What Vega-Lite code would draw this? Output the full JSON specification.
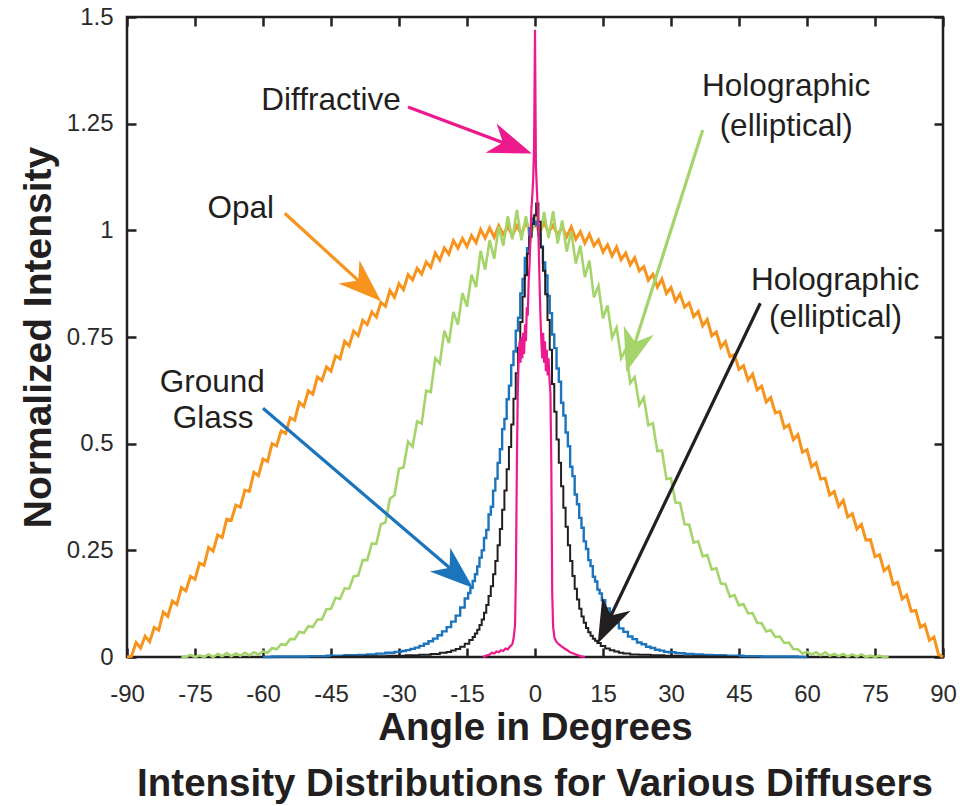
{
"$schema": "https://vega.github.io/schema/vega-lite/v6.json",
"width": 816, "height": 640,
"autosize": {"type": "none"},
"padding": {"left": 127, "top": 17, "right": 36, "bottom": 149},
"background": "white",
"config": {"view": {"stroke": "#231f20", "strokeWidth": 2.5}, "font": "Liberation Sans"},
"title": {"text": "Intensity Distributions for Various Diffusers", "orient": "bottom", "anchor": "middle", "fontSize": 38.5, "fontWeight": "bold", "font": "Liberation Sans", "color": "#231f20", "baseline": "alphabetic", "offset": 49},
"datasets": {
"opal": [{"a":-90,"v":0},{"a":-89,"v":0.002},{"a":-88,"v":0.034},{"a":-87,"v":0.021},{"a":-86,"v":0.049},{"a":-85,"v":0.036},{"a":-84,"v":0.069},{"a":-83,"v":0.063},{"a":-82,"v":0.105},{"a":-81,"v":0.095},{"a":-80,"v":0.131},{"a":-79,"v":0.123},{"a":-78,"v":0.163},{"a":-77,"v":0.155},{"a":-76,"v":0.189},{"a":-75,"v":0.182},{"a":-74,"v":0.22},{"a":-73,"v":0.215},{"a":-72,"v":0.257},{"a":-71,"v":0.248},{"a":-70,"v":0.286},{"a":-69,"v":0.28},{"a":-68,"v":0.323},{"a":-67,"v":0.32},{"a":-66,"v":0.356},{"a":-65,"v":0.351},{"a":-64,"v":0.391},{"a":-63,"v":0.388},{"a":-62,"v":0.433},{"a":-61,"v":0.425},{"a":-60,"v":0.464},{"a":-59,"v":0.458},{"a":-58,"v":0.5},{"a":-57,"v":0.495},{"a":-56,"v":0.53},{"a":-55,"v":0.524},{"a":-54,"v":0.561},{"a":-53,"v":0.555},{"a":-52,"v":0.597},{"a":-51,"v":0.587},{"a":-50,"v":0.624},{"a":-49,"v":0.616},{"a":-48,"v":0.656},{"a":-47,"v":0.648},{"a":-46,"v":0.68},{"a":-45,"v":0.67},{"a":-44,"v":0.706},{"a":-43,"v":0.699},{"a":-42,"v":0.74},{"a":-41,"v":0.729},{"a":-40,"v":0.764},{"a":-39,"v":0.753},{"a":-38,"v":0.789},{"a":-37,"v":0.779},{"a":-36,"v":0.809},{"a":-35,"v":0.797},{"a":-34,"v":0.831},{"a":-33,"v":0.822},{"a":-32,"v":0.859},{"a":-31,"v":0.843},{"a":-30,"v":0.875},{"a":-29,"v":0.861},{"a":-28,"v":0.896},{"a":-27,"v":0.884},{"a":-26,"v":0.911},{"a":-25,"v":0.897},{"a":-24,"v":0.926},{"a":-23,"v":0.913},{"a":-22,"v":0.947},{"a":-21,"v":0.93},{"a":-20,"v":0.959},{"a":-19,"v":0.944},{"a":-18,"v":0.976},{"a":-17,"v":0.958},{"a":-16,"v":0.981},{"a":-15,"v":0.962},{"a":-14,"v":0.988},{"a":-13,"v":0.971},{"a":-12,"v":1.002},{"a":-11,"v":0.982},{"a":-10,"v":1.006},{"a":-9,"v":0.984},{"a":-8,"v":1.011},{"a":-7,"v":0.99},{"a":-6,"v":1.009},{"a":-5,"v":0.987},{"a":-4,"v":1.011},{"a":-3,"v":0.991},{"a":-2,"v":1.019},{"a":-1,"v":0.995},{"a":0,"v":1.017},{"a":1,"v":0.994},{"a":2,"v":1.018},{"a":3,"v":0.995},{"a":4,"v":1.012},{"a":5,"v":0.988},{"a":6,"v":1.009},{"a":7,"v":0.985},{"a":8,"v":1.008},{"a":9,"v":0.979},{"a":10,"v":0.997},{"a":11,"v":0.97},{"a":12,"v":0.991},{"a":13,"v":0.964},{"a":14,"v":0.978},{"a":15,"v":0.949},{"a":16,"v":0.966},{"a":17,"v":0.94},{"a":18,"v":0.961},{"a":19,"v":0.931},{"a":20,"v":0.947},{"a":21,"v":0.919},{"a":22,"v":0.936},{"a":23,"v":0.905},{"a":24,"v":0.915},{"a":25,"v":0.883},{"a":26,"v":0.897},{"a":27,"v":0.867},{"a":28,"v":0.886},{"a":29,"v":0.852},{"a":30,"v":0.866},{"a":31,"v":0.834},{"a":32,"v":0.851},{"a":33,"v":0.82},{"a":34,"v":0.83},{"a":35,"v":0.798},{"a":36,"v":0.81},{"a":37,"v":0.776},{"a":38,"v":0.791},{"a":39,"v":0.753},{"a":40,"v":0.762},{"a":41,"v":0.726},{"a":42,"v":0.739},{"a":43,"v":0.704},{"a":44,"v":0.709},{"a":45,"v":0.674},{"a":46,"v":0.683},{"a":47,"v":0.649},{"a":48,"v":0.663},{"a":49,"v":0.626},{"a":50,"v":0.635},{"a":51,"v":0.598},{"a":52,"v":0.608},{"a":53,"v":0.572},{"a":54,"v":0.575},{"a":55,"v":0.537},{"a":56,"v":0.544},{"a":57,"v":0.509},{"a":58,"v":0.521},{"a":59,"v":0.48},{"a":60,"v":0.486},{"a":61,"v":0.446},{"a":62,"v":0.455},{"a":63,"v":0.417},{"a":64,"v":0.419},{"a":65,"v":0.38},{"a":66,"v":0.388},{"a":67,"v":0.353},{"a":68,"v":0.367},{"a":69,"v":0.328},{"a":70,"v":0.336},{"a":71,"v":0.3},{"a":72,"v":0.311},{"a":73,"v":0.274},{"a":74,"v":0.275},{"a":75,"v":0.235},{"a":76,"v":0.24},{"a":77,"v":0.202},{"a":78,"v":0.212},{"a":79,"v":0.17},{"a":80,"v":0.175},{"a":81,"v":0.136},{"a":82,"v":0.145},{"a":83,"v":0.107},{"a":84,"v":0.109},{"a":85,"v":0.07},{"a":86,"v":0.076},{"a":87,"v":0.039},{"a":88,"v":0.047},{"a":89,"v":0.006},{"a":90,"v":0}],
"holo_wide": [{"a":-78,"v":0},{"a":-77,"v":0},{"a":-76,"v":0.005},{"a":-75,"v":0},{"a":-74,"v":0.004},{"a":-73,"v":0},{"a":-72,"v":0.006},{"a":-71,"v":0},{"a":-70,"v":0.007},{"a":-69,"v":0.002},{"a":-68,"v":0.009},{"a":-67,"v":0.002},{"a":-66,"v":0.008},{"a":-65,"v":0.003},{"a":-64,"v":0.01},{"a":-63,"v":0.004},{"a":-62,"v":0.011},{"a":-61,"v":0.006},{"a":-60,"v":0.013},{"a":-59,"v":0.01},{"a":-58,"v":0.021},{"a":-57,"v":0.018},{"a":-56,"v":0.03},{"a":-55,"v":0.028},{"a":-54,"v":0.042},{"a":-53,"v":0.042},{"a":-52,"v":0.059},{"a":-51,"v":0.056},{"a":-50,"v":0.072},{"a":-49,"v":0.07},{"a":-48,"v":0.088},{"a":-47,"v":0.088},{"a":-46,"v":0.112},{"a":-45,"v":0.113},{"a":-44,"v":0.139},{"a":-43,"v":0.136},{"a":-42,"v":0.161},{"a":-41,"v":0.16},{"a":-40,"v":0.189},{"a":-39,"v":0.191},{"a":-38,"v":0.227},{"a":-37,"v":0.227},{"a":-36,"v":0.266},{"a":-35,"v":0.265},{"a":-34,"v":0.311},{"a":-33,"v":0.315},{"a":-32,"v":0.371},{"a":-31,"v":0.379},{"a":-30,"v":0.441},{"a":-29,"v":0.444},{"a":-28,"v":0.505},{"a":-27,"v":0.493},{"a":-26,"v":0.552},{"a":-25,"v":0.547},{"a":-24,"v":0.624},{"a":-23,"v":0.621},{"a":-22,"v":0.7},{"a":-21,"v":0.688},{"a":-20,"v":0.765},{"a":-19,"v":0.736},{"a":-18,"v":0.809},{"a":-17,"v":0.779},{"a":-16,"v":0.853},{"a":-15,"v":0.821},{"a":-14,"v":0.896},{"a":-13,"v":0.867},{"a":-12,"v":0.952},{"a":-11,"v":0.908},{"a":-10,"v":0.977},{"a":-9,"v":0.933},{"a":-8,"v":1.009},{"a":-7,"v":0.964},{"a":-6,"v":1.033},{"a":-5,"v":0.979},{"a":-4,"v":1.048},{"a":-3,"v":0.977},{"a":-2,"v":1.033},{"a":-1,"v":0.974},{"a":0,"v":1.04},{"a":1,"v":0.98},{"a":2,"v":1.043},{"a":3,"v":0.982},{"a":4,"v":1.045},{"a":5,"v":0.969},{"a":6,"v":1.023},{"a":7,"v":0.95},{"a":8,"v":0.998},{"a":9,"v":0.922},{"a":10,"v":0.964},{"a":11,"v":0.89},{"a":12,"v":0.929},{"a":13,"v":0.843},{"a":14,"v":0.87},{"a":15,"v":0.794},{"a":16,"v":0.824},{"a":17,"v":0.749},{"a":18,"v":0.772},{"a":19,"v":0.7},{"a":20,"v":0.721},{"a":21,"v":0.642},{"a":22,"v":0.656},{"a":23,"v":0.59},{"a":24,"v":0.608},{"a":25,"v":0.543},{"a":26,"v":0.548},{"a":27,"v":0.482},{"a":28,"v":0.484},{"a":29,"v":0.417},{"a":30,"v":0.419},{"a":31,"v":0.362},{"a":32,"v":0.361},{"a":33,"v":0.311},{"a":34,"v":0.31},{"a":35,"v":0.268},{"a":36,"v":0.271},{"a":37,"v":0.236},{"a":38,"v":0.239},{"a":39,"v":0.205},{"a":40,"v":0.208},{"a":41,"v":0.172},{"a":42,"v":0.171},{"a":43,"v":0.141},{"a":44,"v":0.145},{"a":45,"v":0.121},{"a":46,"v":0.124},{"a":47,"v":0.102},{"a":48,"v":0.103},{"a":49,"v":0.08},{"a":50,"v":0.079},{"a":51,"v":0.06},{"a":52,"v":0.063},{"a":53,"v":0.047},{"a":54,"v":0.048},{"a":55,"v":0.033},{"a":56,"v":0.034},{"a":57,"v":0.018},{"a":58,"v":0.018},{"a":59,"v":0.008},{"a":60,"v":0.012},{"a":61,"v":0.006},{"a":62,"v":0.011},{"a":63,"v":0.004},{"a":64,"v":0.011},{"a":65,"v":0.003},{"a":66,"v":0.007},{"a":67,"v":0.002},{"a":68,"v":0.007},{"a":69,"v":0.001},{"a":70,"v":0.006},{"a":71,"v":0.001},{"a":72,"v":0.006},{"a":73,"v":0},{"a":74,"v":0.003},{"a":75,"v":0},{"a":76,"v":0.003},{"a":77,"v":0},{"a":78,"v":0}],
"ground": [{"a":-60,"v":0},{"a":-56,"v":0.001},{"a":-52,"v":0.001},{"a":-48,"v":0.002},{"a":-44,"v":0.003},{"a":-40,"v":0.004},{"a":-38,"v":0.005},{"a":-36,"v":0.006},{"a":-34,"v":0.008},{"a":-32,"v":0.01},{"a":-30,"v":0.012},{"a":-29,"v":0.014},{"a":-28,"v":0.016},{"a":-27,"v":0.019},{"a":-26,"v":0.022},{"a":-25,"v":0.026},{"a":-24,"v":0.031},{"a":-23,"v":0.037},{"a":-22,"v":0.043},{"a":-21,"v":0.051},{"a":-20,"v":0.06},{"a":-19,"v":0.07},{"a":-18,"v":0.083},{"a":-17,"v":0.097},{"a":-16,"v":0.116},{"a":-15,"v":0.137},{"a":-14.5,"v":0.15},{"a":-14,"v":0.162},{"a":-13.5,"v":0.178},{"a":-13,"v":0.194},{"a":-12.5,"v":0.212},{"a":-12,"v":0.233},{"a":-11.5,"v":0.25},{"a":-11,"v":0.279},{"a":-10.5,"v":0.298},{"a":-10,"v":0.334},{"a":-9.5,"v":0.352},{"a":-9,"v":0.39},{"a":-8.5,"v":0.418},{"a":-8,"v":0.455},{"a":-7.5,"v":0.487},{"a":-7,"v":0.534},{"a":-6.5,"v":0.558},{"a":-6,"v":0.604},{"a":-5.5,"v":0.636},{"a":-5,"v":0.684},{"a":-4.5,"v":0.716},{"a":-4,"v":0.765},{"a":-3.5,"v":0.795},{"a":-3,"v":0.852},{"a":-2.5,"v":0.886},{"a":-2,"v":0.935},{"a":-1.5,"v":0.958},{"a":-1,"v":1.005},{"a":-0.5,"v":1.028},{"a":0,"v":1.02},{"a":0.5,"v":1.012},{"a":1,"v":0.99},{"a":1.5,"v":0.962},{"a":2,"v":0.925},{"a":2.5,"v":0.894},{"a":3,"v":0.846},{"a":3.5,"v":0.806},{"a":4,"v":0.756},{"a":4.5,"v":0.724},{"a":5,"v":0.676},{"a":5.5,"v":0.645},{"a":6,"v":0.596},{"a":6.5,"v":0.566},{"a":7,"v":0.526},{"a":7.5,"v":0.494},{"a":8,"v":0.446},{"a":8.5,"v":0.424},{"a":9,"v":0.381},{"a":9.5,"v":0.358},{"a":10,"v":0.326},{"a":10.5,"v":0.303},{"a":11,"v":0.271},{"a":11.5,"v":0.253},{"a":12,"v":0.227},{"a":12.5,"v":0.213},{"a":13,"v":0.188},{"a":13.5,"v":0.177},{"a":14,"v":0.158},{"a":14.5,"v":0.149},{"a":15,"v":0.133},{"a":16,"v":0.114},{"a":17,"v":0.094},{"a":18,"v":0.081},{"a":19,"v":0.067},{"a":20,"v":0.059},{"a":21,"v":0.048},{"a":22,"v":0.042},{"a":23,"v":0.034},{"a":24,"v":0.03},{"a":25,"v":0.024},{"a":26,"v":0.021},{"a":27,"v":0.017},{"a":28,"v":0.015},{"a":29,"v":0.012},{"a":30,"v":0.011},{"a":32,"v":0.009},{"a":34,"v":0.007},{"a":36,"v":0.006},{"a":38,"v":0.005},{"a":40,"v":0.004},{"a":44,"v":0.003},{"a":48,"v":0.002},{"a":52,"v":0.001},{"a":56,"v":0.001},{"a":60,"v":0}],
"holo_narrow": [{"a":-45,"v":0},{"a":-40,"v":0.001},{"a":-35,"v":0.002},{"a":-30,"v":0.003},{"a":-27,"v":0.004},{"a":-24,"v":0.005},{"a":-22,"v":0.007},{"a":-20,"v":0.01},{"a":-19,"v":0.012},{"a":-18,"v":0.015},{"a":-17,"v":0.019},{"a":-16,"v":0.024},{"a":-15,"v":0.031},{"a":-14,"v":0.04},{"a":-13.5,"v":0.047},{"a":-13,"v":0.055},{"a":-12.5,"v":0.064},{"a":-12,"v":0.075},{"a":-11.5,"v":0.088},{"a":-11,"v":0.104},{"a":-10.5,"v":0.122},{"a":-10,"v":0.143},{"a":-9.5,"v":0.166},{"a":-9,"v":0.194},{"a":-8.5,"v":0.225},{"a":-8,"v":0.262},{"a":-7.5,"v":0.3},{"a":-7,"v":0.345},{"a":-6.5,"v":0.39},{"a":-6,"v":0.44},{"a":-5.5,"v":0.492},{"a":-5,"v":0.545},{"a":-4.5,"v":0.605},{"a":-4,"v":0.665},{"a":-3.5,"v":0.725},{"a":-3,"v":0.785},{"a":-2.5,"v":0.845},{"a":-2,"v":0.895},{"a":-1.5,"v":0.945},{"a":-1,"v":0.985},{"a":-0.5,"v":1.015},{"a":0,"v":1.035},{"a":0.5,"v":1.063},{"a":1,"v":1.02},{"a":1.5,"v":0.96},{"a":2,"v":0.905},{"a":2.5,"v":0.85},{"a":3,"v":0.79},{"a":3.5,"v":0.72},{"a":4,"v":0.64},{"a":4.5,"v":0.575},{"a":5,"v":0.51},{"a":5.5,"v":0.455},{"a":6,"v":0.4},{"a":6.5,"v":0.35},{"a":7,"v":0.305},{"a":7.5,"v":0.262},{"a":8,"v":0.225},{"a":8.5,"v":0.19},{"a":9,"v":0.16},{"a":9.5,"v":0.135},{"a":10,"v":0.113},{"a":10.5,"v":0.095},{"a":11,"v":0.08},{"a":11.5,"v":0.068},{"a":12,"v":0.058},{"a":12.5,"v":0.05},{"a":13,"v":0.043},{"a":13.5,"v":0.038},{"a":14,"v":0.033},{"a":15,"v":0.026},{"a":16,"v":0.02},{"a":17,"v":0.016},{"a":18,"v":0.013},{"a":19,"v":0.01},{"a":20,"v":0.008},{"a":22,"v":0.006},{"a":24,"v":0.005},{"a":27,"v":0.004},{"a":30,"v":0.003},{"a":35,"v":0.002},{"a":40,"v":0.001},{"a":45,"v":0}],
"diffractive": [{"a":-11.5,"v":0},{"a":-11,"v":0.002},{"a":-10.5,"v":0.004},{"a":-10,"v":0.006},{"a":-9.5,"v":0.01},{"a":-9,"v":0.008},{"a":-8.5,"v":0.013},{"a":-8,"v":0.011},{"a":-7.5,"v":0.016},{"a":-7,"v":0.014},{"a":-6.5,"v":0.02},{"a":-6,"v":0.018},{"a":-5.5,"v":0.025},{"a":-5,"v":0.03},{"a":-4.7,"v":0.045},{"a":-4.4,"v":0.075},{"a":-4.2,"v":0.2},{"a":-4,"v":0.45},{"a":-3.8,"v":0.62},{"a":-3.6,"v":0.7},{"a":-3.4,"v":0.74},{"a":-3.2,"v":0.69},{"a":-3,"v":0.75},{"a":-2.8,"v":0.7},{"a":-2.6,"v":0.76},{"a":-2.4,"v":0.71},{"a":-2.2,"v":0.78},{"a":-2,"v":0.74},{"a":-1.8,"v":0.82},{"a":-1.6,"v":0.8},{"a":-1.4,"v":0.88},{"a":-1.2,"v":0.92},{"a":-1,"v":0.98},{"a":-0.8,"v":1.05},{"a":-0.6,"v":1.08},{"a":-0.4,"v":1.12},{"a":-0.2,"v":1.2},{"a":0,"v":1.47},{"a":0.2,"v":1.15},{"a":0.4,"v":1.1},{"a":0.6,"v":1.05},{"a":0.8,"v":0.97},{"a":1,"v":0.88},{"a":1.2,"v":0.8},{"a":1.4,"v":0.74},{"a":1.6,"v":0.7},{"a":1.8,"v":0.76},{"a":2,"v":0.69},{"a":2.2,"v":0.74},{"a":2.4,"v":0.67},{"a":2.6,"v":0.72},{"a":2.8,"v":0.66},{"a":3,"v":0.7},{"a":3.2,"v":0.65},{"a":3.4,"v":0.62},{"a":3.6,"v":0.45},{"a":3.8,"v":0.15},{"a":4,"v":0.07},{"a":4.3,"v":0.045},{"a":4.6,"v":0.038},{"a":5,"v":0.032},{"a":5.5,"v":0.028},{"a":6,"v":0.024},{"a":6.5,"v":0.02},{"a":7,"v":0.017},{"a":7.5,"v":0.013},{"a":8,"v":0.01},{"a":8.5,"v":0.008},{"a":9,"v":0.006},{"a":9.5,"v":0.004},{"a":10,"v":0.002},{"a":10.5,"v":0.001},{"a":11,"v":0}],
"arrows": [{"name":"diffractive","a":-28.0,"v":1.289,"a2":-5.2,"v2":1.198},{"name":"holo_wide","a":37.0,"v":1.235,"a2":21.5,"v2":0.717},{"name":"opal","a":-55.2,"v":1.04,"a2":-37.5,"v2":0.868},{"name":"holo_narrow","a":49.7,"v":0.829,"a2":15.9,"v2":0.078},{"name":"ground","a":-60.0,"v":0.583,"a2":-17.3,"v2":0.195}],
"labels": [{"label":"Diffractive","a":-45.0,"v":1.282},{"label":"Holographic","a":55.4,"v":1.315},{"label":"(elliptical)","a":55.4,"v":1.221},{"label":"Opal","a":-64.9,"v":1.028},{"label":"Holographic","a":66.2,"v":0.86},{"label":"(elliptical)","a":66.3,"v":0.774},{"label":"Ground","a":-71.2,"v":0.622},{"label":"Glass","a":-71.0,"v":0.536}]
},
"layer": [
{"data": {"name": "opal"}, "mark": {"type": "line", "color": "#f7941d", "strokeWidth": 3},
 "encoding": {
  "x": {"field": "a", "type": "quantitative", "scale": {"domain": [-90, 90], "nice": false, "zero": false},
    "axis": {"orient": "bottom", "values": [-90,-75,-60,-45,-30,-15,0,15,30,45,60,75,90], "labelExpr": "'' + datum.value", "labelFont": "Liberation Sans", "labelFontSize": 24, "labelColor": "#2b2b2b", "labelBaseline": "alphabetic", "labelPadding": 53, "tickSize": -9, "tickWidth": 2.5, "tickColor": "#231f20", "domain": false, "grid": false, "labelFlush": false, "labelOverlap": false, "title": "Angle in Degrees", "titleFont": "Liberation Sans", "titleFontSize": 38.5, "titleFontWeight": "bold", "titleColor": "#231f20", "titleBaseline": "alphabetic", "titleAlign": "center", "titleX": 408, "titleY": 82}},
  "y": {"field": "v", "type": "quantitative", "scale": {"domain": [0, 1.5], "nice": false, "zero": false},
    "axis": {"orient": "left", "values": [0,0.25,0.5,0.75,1,1.25,1.5], "labelExpr": "'' + datum.value", "labelFont": "Liberation Sans", "labelFontSize": 24, "labelColor": "#2b2b2b", "labelPadding": 23, "tickSize": -9, "tickWidth": 2.5, "tickColor": "#231f20", "domain": false, "grid": false, "labelFlush": false, "labelOverlap": false, "title": "Normalized Intensity", "titleFont": "Liberation Sans", "titleFontSize": 39, "titleFontWeight": "bold", "titleColor": "#231f20", "titleBaseline": "alphabetic", "titleAlign": "center", "titleAngle": -90, "titleX": -77, "titleY": 320}}
 }},
{"data": {"name": "holo_wide"}, "mark": {"type": "line", "color": "#a5d46b", "strokeWidth": 2.6},
 "encoding": {"x": {"field": "a", "type": "quantitative", "scale": {"domain": [-90, 90], "nice": false, "zero": false}, "axis": null},
  "y": {"field": "v", "type": "quantitative", "scale": {"domain": [0, 1.5], "nice": false, "zero": false}, "axis": null}}},
{"data": {"name": "ground"}, "mark": {"type": "line", "color": "#1c75bc", "strokeWidth": 2.4, "interpolate": "step"},
 "encoding": {"x": {"field": "a", "type": "quantitative", "scale": {"domain": [-90, 90], "nice": false, "zero": false}, "axis": null},
  "y": {"field": "v", "type": "quantitative", "scale": {"domain": [0, 1.5], "nice": false, "zero": false}, "axis": null}}},
{"data": {"name": "holo_narrow"}, "mark": {"type": "line", "color": "#231f20", "strokeWidth": 2, "interpolate": "step"},
 "encoding": {"x": {"field": "a", "type": "quantitative", "scale": {"domain": [-90, 90], "nice": false, "zero": false}, "axis": null},
  "y": {"field": "v", "type": "quantitative", "scale": {"domain": [0, 1.5], "nice": false, "zero": false}, "axis": null}}},
{"data": {"name": "diffractive"}, "mark": {"type": "line", "color": "#ec1a8c", "strokeWidth": 2.2},
 "encoding": {"x": {"field": "a", "type": "quantitative", "scale": {"domain": [-90, 90], "nice": false, "zero": false}, "axis": null},
  "y": {"field": "v", "type": "quantitative", "scale": {"domain": [0, 1.5], "nice": false, "zero": false}, "axis": null}}},
{"data": {"name": "arrows"}, "mark": {"type": "rule", "strokeWidth": 3.2},
 "encoding": {"x": {"field": "a", "type": "quantitative", "scale": {"domain": [-90, 90], "nice": false, "zero": false}, "axis": null},
  "y": {"field": "v", "type": "quantitative", "scale": {"domain": [0, 1.5], "nice": false, "zero": false}, "axis": null},
  "x2": {"field": "a2"}, "y2": {"field": "v2"},
  "color": {"field": "name", "type": "nominal", "scale": {"domain": ["diffractive","holo_wide","opal","holo_narrow","ground"], "range": ["#ec1a8c","#a5d46b","#f7941d","#231f20","#1c75bc"]}, "legend": null}}},
{"data": {"name": "arrows"}, "transform": [{"filter": {"field": "name", "equal": "diffractive"}}],
 "mark": {"type": "point", "shape": "M0,-1L0.72,1L0,0.42L-0.72,1Z", "size": 1900, "angle": 110.7, "filled": true, "opacity": 1, "strokeWidth": 0},
 "encoding": {"x": {"field": "a2", "type": "quantitative", "scale": {"domain": [-90, 90], "nice": false, "zero": false}, "axis": null},
  "y": {"field": "v2", "type": "quantitative", "scale": {"domain": [0, 1.5], "nice": false, "zero": false}, "axis": null},
  "color": {"field": "name", "type": "nominal", "legend": null}}},
{"data": {"name": "arrows"}, "transform": [{"filter": {"field": "name", "equal": "holo_wide"}}],
 "mark": {"type": "point", "shape": "M0,-1L0.72,1L0,0.42L-0.72,1Z", "size": 1900, "angle": 196.8, "filled": true, "opacity": 1, "strokeWidth": 0},
 "encoding": {"x": {"field": "a2", "type": "quantitative", "scale": {"domain": [-90, 90], "nice": false, "zero": false}, "axis": null},
  "y": {"field": "v2", "type": "quantitative", "scale": {"domain": [0, 1.5], "nice": false, "zero": false}, "axis": null},
  "color": {"field": "name", "type": "nominal", "legend": null}}},
{"data": {"name": "arrows"}, "transform": [{"filter": {"field": "name", "equal": "opal"}}],
 "mark": {"type": "point", "shape": "M0,-1L0.72,1L0,0.42L-0.72,1Z", "size": 1900, "angle": 132.4, "filled": true, "opacity": 1, "strokeWidth": 0},
 "encoding": {"x": {"field": "a2", "type": "quantitative", "scale": {"domain": [-90, 90], "nice": false, "zero": false}, "axis": null},
  "y": {"field": "v2", "type": "quantitative", "scale": {"domain": [0, 1.5], "nice": false, "zero": false}, "axis": null},
  "color": {"field": "name", "type": "nominal", "legend": null}}},
{"data": {"name": "arrows"}, "transform": [{"filter": {"field": "name", "equal": "holo_narrow"}}],
 "mark": {"type": "point", "shape": "M0,-1L0.72,1L0,0.42L-0.72,1Z", "size": 1900, "angle": 205.5, "filled": true, "opacity": 1, "strokeWidth": 0},
 "encoding": {"x": {"field": "a2", "type": "quantitative", "scale": {"domain": [-90, 90], "nice": false, "zero": false}, "axis": null},
  "y": {"field": "v2", "type": "quantitative", "scale": {"domain": [0, 1.5], "nice": false, "zero": false}, "axis": null},
  "color": {"field": "name", "type": "nominal", "legend": null}}},
{"data": {"name": "arrows"}, "transform": [{"filter": {"field": "name", "equal": "ground"}}],
 "mark": {"type": "point", "shape": "M0,-1L0.72,1L0,0.42L-0.72,1Z", "size": 1900, "angle": 130.6, "filled": true, "opacity": 1, "strokeWidth": 0},
 "encoding": {"x": {"field": "a2", "type": "quantitative", "scale": {"domain": [-90, 90], "nice": false, "zero": false}, "axis": null},
  "y": {"field": "v2", "type": "quantitative", "scale": {"domain": [0, 1.5], "nice": false, "zero": false}, "axis": null},
  "color": {"field": "name", "type": "nominal", "legend": null}}},
{"data": {"name": "labels"}, "mark": {"type": "text", "font": "Liberation Sans", "fontSize": 31.5, "color": "#231f20", "align": "center", "baseline": "alphabetic"},
 "encoding": {
  "x": {"field": "a", "type": "quantitative", "scale": {"domain": [-90, 90], "nice": false, "zero": false},
    "axis": {"orient": "top", "values": [-90,-75,-60,-45,-30,-15,0,15,30,45,60,75,90], "labels": false, "tickSize": -9, "tickWidth": 2.5, "tickColor": "#231f20", "domain": false, "grid": false, "title": null}},
  "y": {"field": "v", "type": "quantitative", "scale": {"domain": [0, 1.5], "nice": false, "zero": false},
    "axis": {"orient": "right", "values": [0,0.25,0.5,0.75,1,1.25,1.5], "labels": false, "tickSize": -9, "tickWidth": 2.5, "tickColor": "#231f20", "domain": false, "grid": false, "title": null}},
  "text": {"field": "label", "type": "nominal"}
 }}
],
"resolve": {"axis": {"x": "independent", "y": "independent"}}
}
